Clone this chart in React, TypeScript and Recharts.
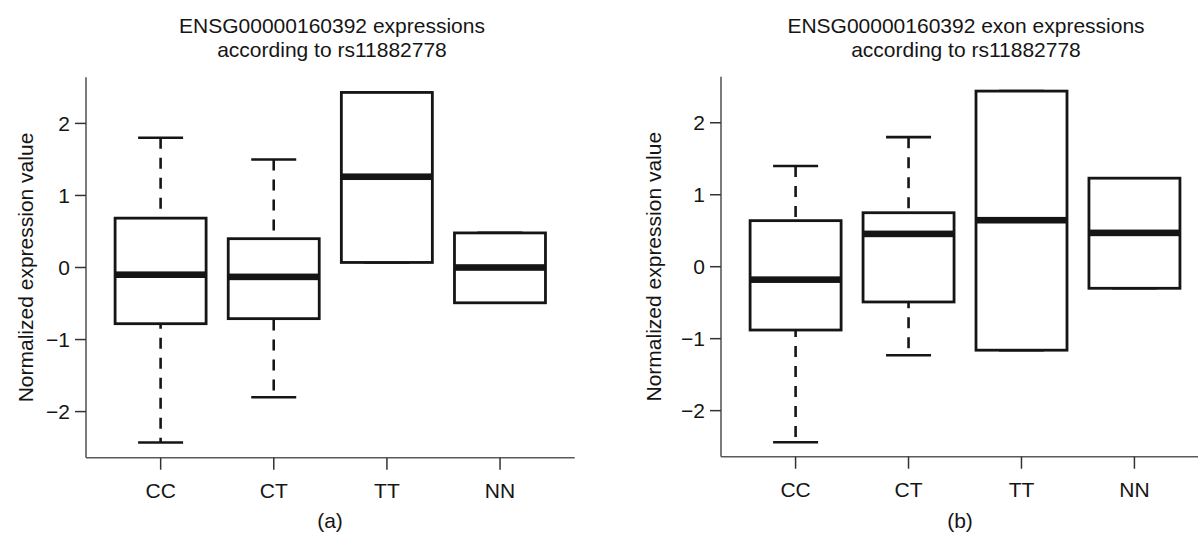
import React from 'react';
import { ComposedChart, Bar, XAxis, YAxis } from 'recharts';

const categories = ['CC', 'CT', 'TT', 'NN'];

const leftMin = [-2.43, -1.8, 0.07, -0.49];
const leftQ1 = [-0.78, -0.71, 0.07, -0.49];
const leftMed = [-0.1, -0.13, 1.26, 0.0];
const leftQ3 = [0.685, 0.4, 2.43, 0.48];
const leftMax = [1.8, 1.5, 2.43, 0.48];

const rightMin = [-2.44, -1.23, -1.16, -0.3];
const rightQ1 = [-0.88, -0.49, -1.16, -0.3];
const rightMed = [-0.18, 0.456, 0.646, 0.47];
const rightQ3 = [0.64, 0.75, 2.44, 1.23];
const rightMax = [1.4, 1.8, 2.44, 1.23];

const yTicks = [-2, -1, 0, 1, 2];
const yDomain: [number, number] = [-2.64, 2.64];

const leftTitle = ['ENSG00000160392 expressions', 'according to rs11882778'];
const rightTitle = ['ENSG00000160392 exon expressions', 'according to rs11882778'];
const yLabel = 'Normalized expression value';

const FONT = '"Liberation Sans", Arial, Helvetica, sans-serif';
const FS = 21;
const INK = '#151515';
const FRAME = '#5a5a5a';

function buildRows(mn: number[], q1: number[], md: number[], q3: number[], mx: number[]) {
  return categories.map((c, i) => ({ cat: c, min: mn[i], q1: q1[i], med: md[i], q3: q3[i], max: mx[i] }));
}

const leftRows = buildRows(leftMin, leftQ1, leftMed, leftQ3, leftMax);
const rightRows = buildRows(rightMin, rightQ1, rightMed, rightQ3, rightMax);

const fmt = (v: number) => (v < 0 ? '\u2212' + Math.abs(v) : String(v));

const WhiskerShape = (p: any) => {
  const top = Math.min(p.y, p.y + p.height);
  const bot = Math.max(p.y, p.y + p.height);
  const cx = p.x + p.width / 2;
  return (
    <g>
      <line x1={cx} x2={cx} y1={top} y2={bot} stroke={INK} strokeWidth={2.6} strokeDasharray="11 9" />
      <line x1={p.x} x2={p.x + p.width} y1={top} y2={top} stroke={INK} strokeWidth={2.6} />
      <line x1={p.x} x2={p.x + p.width} y1={bot} y2={bot} stroke={INK} strokeWidth={2.6} />
    </g>
  );
};

const BoxShape = (p: any) => {
  const top = Math.min(p.y, p.y + p.height);
  const h = Math.abs(p.height);
  return <rect x={p.x} y={top} width={p.width} height={h} fill="#ffffff" stroke={INK} strokeWidth={2.8} />;
};

const MedianShape = (p: any) => {
  const yy = p.y + p.height / 2;
  return <rect x={p.x} y={yy - 3.3} width={p.width} height={6.6} fill={INK} />;
};

type PanelProps = {
  rows: any[];
  left: number;
  width: number;
  marginLeft: number;
  marginRight: number;
  marginTop: number;
  plotBottom: number;
  labelOffset: number;
};

function Panel({ rows, left, width, marginLeft, marginRight, marginTop, plotBottom, labelOffset }: PanelProps) {
  const height = 536;
  const xAxisH = 44;
  const marginBottom = height - plotBottom - xAxisH;
  const pad = { left: 18.1, right: 18.1 };
  const renderYLabel = (props: any) => {
    const vb = props.viewBox || {};
    const x = (vb.x || 0) + (vb.width || 0) - labelOffset;
    const y = (vb.y || 0) + (vb.height || 0) / 2;
    return (
      <text
        x={x}
        y={y}
        transform={`rotate(-90 ${x} ${y})`}
        textAnchor="middle"
        dominantBaseline="central"
        fontSize={FS}
        fontFamily={FONT}
        fill={INK}
      >
        {yLabel}
      </text>
    );
  };
  return (
    <div style={{ position: 'absolute', left, top: 0, width, height }}>
      <ComposedChart
        width={width}
        height={height}
        data={rows}
        margin={{ top: marginTop, right: marginRight, bottom: marginBottom, left: marginLeft }}
      >
        <XAxis
          xAxisId="main"
          dataKey="cat"
          type="category"
          padding={pad}
          height={xAxisH}
          tickSize={12}
          tickMargin={13}
          tick={{ fontSize: FS, fontFamily: FONT, fill: INK }}
          tickLine={{ stroke: '#333', strokeWidth: 1.5 }}
          axisLine={{ stroke: FRAME, strokeWidth: 1.6 }}
          interval={0}
        />
        <XAxis
          xAxisId="top"
          dataKey="cat"
          type="category"
          orientation="top"
          padding={pad}
          height={0}
          tick={false}
          tickLine={false}
          axisLine={{ stroke: FRAME, strokeWidth: 1.6 }}
        />
        <XAxis xAxisId="w" dataKey="cat" type="category" padding={pad} hide />
        <YAxis
          yAxisId="l"
          type="number"
          domain={yDomain}
          ticks={yTicks}
          width={86}
          tickSize={11}
          tickMargin={5}
          tickFormatter={fmt}
          tick={{ fontSize: FS, fontFamily: FONT, fill: INK }}
          tickLine={{ stroke: '#333', strokeWidth: 1.5 }}
          axisLine={{ stroke: FRAME, strokeWidth: 1.6 }}
          label={renderYLabel}
          allowDataOverflow
        />
        <YAxis
          yAxisId="r"
          type="number"
          orientation="right"
          domain={yDomain}
          ticks={yTicks}
          width={0}
          tick={false}
          tickLine={false}
          axisLine={{ stroke: FRAME, strokeWidth: 1.6 }}
          allowDataOverflow
        />
        <Bar
          xAxisId="w"
          yAxisId="l"
          dataKey={(d: any) => [d.min, d.max]}
          barSize={45}
          shape={WhiskerShape}
          isAnimationActive={false}
        />
        <Bar
          xAxisId="main"
          yAxisId="l"
          dataKey={(d: any) => [d.q1, d.q3]}
          barSize={91}
          shape={BoxShape}
          isAnimationActive={false}
        />
        <Bar
          xAxisId="top"
          yAxisId="l"
          dataKey={(d: any) => [d.med, d.med]}
          barSize={91}
          shape={MedianShape}
          isAnimationActive={false}
        />
      </ComposedChart>
    </div>
  );
}

const textBlock = (lines: string[], cx: number, top: number) => (
  <div
    style={{
      position: 'absolute',
      left: cx - 300,
      top,
      width: 600,
      textAlign: 'center',
      fontSize: FS,
      lineHeight: '24px',
      fontFamily: FONT,
      color: INK,
      whiteSpace: 'nowrap',
    }}
  >
    {lines.map((l) => (
      <div key={l}>{l}</div>
    ))}
  </div>
);

export default function App() {
  return (
    <div
      style={{
        position: 'fixed',
        left: 0,
        top: 0,
        width: 1198,
        height: 536,
        overflow: 'hidden',
        background: '#ffffff',
        fontFamily: FONT,
      }}
    >
      {textBlock(leftTitle, 332, 14)}
      {textBlock(rightTitle, 966, 14)}
      <Panel rows={leftRows} left={0} width={600} marginLeft={0} marginRight={25.3} marginTop={77.3} plotBottom={457.7} labelOffset={61} />
      <Panel rows={rightRows} left={600} width={640} marginLeft={35} marginRight={31} marginTop={76.7} plotBottom={456.7} labelOffset={67} />
      {textBlock(['(a)'], 330, 509)}
      {textBlock(['(b)'], 960, 509)}
    </div>
  );
}
